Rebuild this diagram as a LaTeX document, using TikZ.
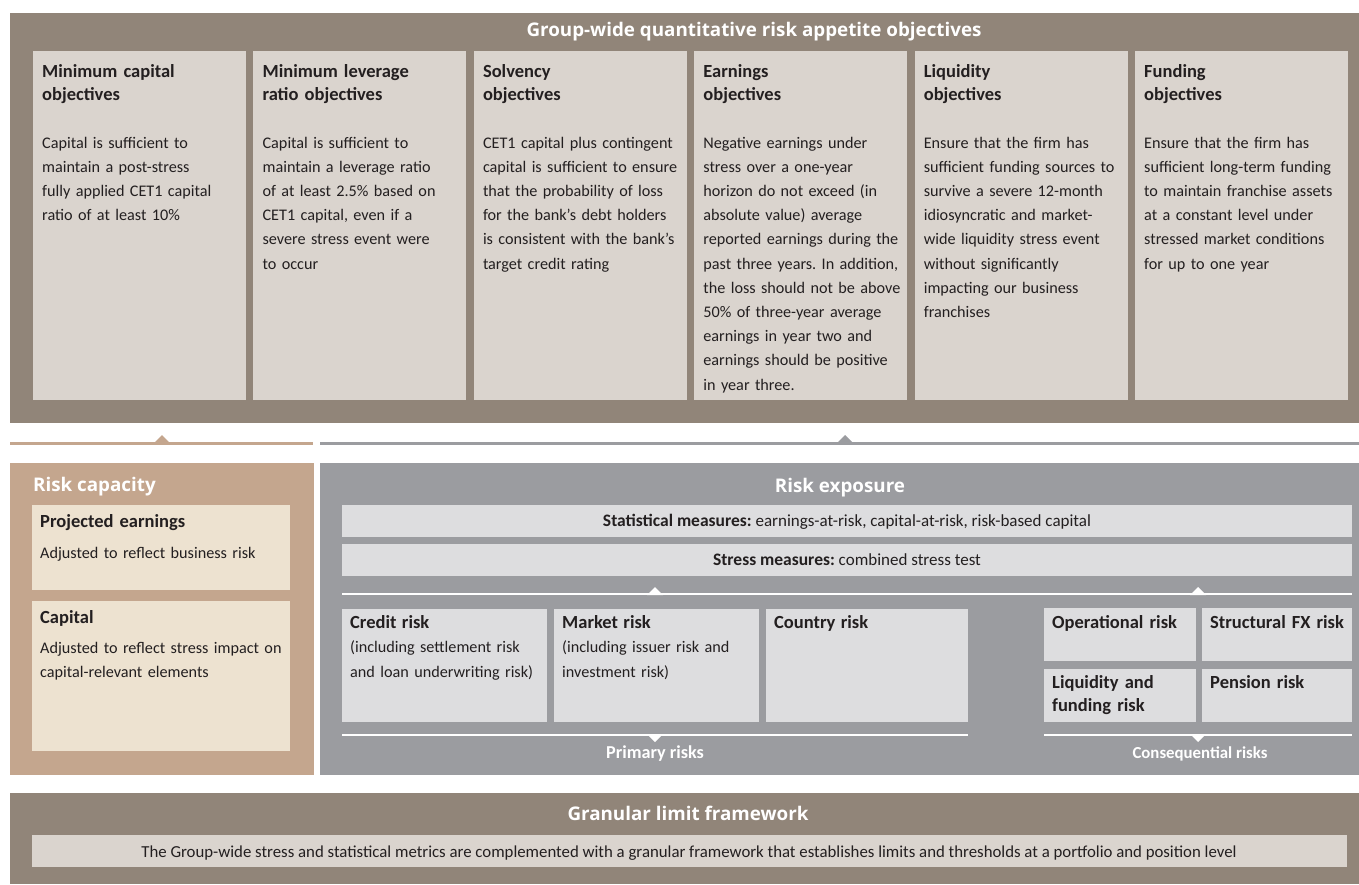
\documentclass[tikz,border=0pt]{standalone}
\usepackage{fontspec}
\setmainfont{Carlito}
\newfontfamily\headfont{Open Sans}
\newcommand\riskhead{\bfseries\fontsize{18.5}{24.6}\selectfont}
\newcommand\barhead{\bfseries\fontsize{17.5}{20}\selectfont}
\definecolor{taupe}{RGB}{145,133,121}
\definecolor{taupebox}{RGB}{218,212,206}
\definecolor{tan}{RGB}{196,166,142}
\definecolor{cream}{RGB}{237,226,208}
\definecolor{slate}{RGB}{155,156,160}
\definecolor{slatebox}{RGB}{221,221,223}
\definecolor{ink}{RGB}{35,31,32}
\frenchspacing

\begin{document}
\begin{tikzpicture}
  [
    x=1pt, y=-1pt,
    white title/.style={font=\headfont\bfseries\fontsize{18.8}{22}\selectfont, text=white, inner sep=0pt, anchor=base},
    white label/.style={font=\bfseries\fontsize{16.8}{20}\selectfont, text=white, inner sep=0pt, anchor=base},
    obj head/.style={font=\bfseries\fontsize{18.5}{23}\selectfont, text=ink, inner sep=0pt, anchor=base west, text width=300pt, align=left},
    obj text/.style={font=\fontsize{16.2}{24.2}\selectfont, text=ink, inner sep=0pt, anchor=base west, text width=300pt, align=left},
    risk text/.style={font=\fontsize{16.2}{24.6}\selectfont, text=ink, inner sep=0pt, anchor=base west, text width=300pt, align=left},
    bar text/.style={font=\fontsize{17}{20}\selectfont, text=ink, inner sep=0pt, anchor=base},
  ]
  \useasboundingbox (0,0) rectangle (1359,884);

  \fill [taupe] (10,13) rectangle (1359,423);
  \node (appetite) [white title] at (754,36) {Group-wide quantitative risk appetite objectives};

  \fill [taupebox] (33,51) rectangle (246,400);
  \node (mincap head) [obj head] at (42,77) {Minimum capital\\objectives};
  \node (mincap text) [obj text] at (42,148) {Capital is sufficient to\\maintain a post-stress\\fully applied CET1 capital\\ratio of at least 10\%};

  \fill [taupebox] (253.4,51) rectangle (466.4,400);
  \node (leverage head) [obj head] at (262.4,77) {Minimum leverage\\ratio objectives};
  \node (leverage text) [obj text] at (262.4,148) {Capital is sufficient to\\maintain a leverage ratio\\of at least 2.5\% based on\\CET1 capital, even if a\\severe stress event were\\to occur};

  \fill [taupebox] (473.8,51) rectangle (686.8,400);
  \node (solvency head) [obj head] at (482.8,77) {Solvency\\objectives};
  \node (solvency text) [obj text] at (482.8,148) {CET1 capital plus contingent\\capital is sufficient to ensure\\that the probability of loss\\for the bank’s debt holders\\is consistent with the bank’s\\target credit rating};

  \fill [taupebox] (694.2,51) rectangle (907.2,400);
  \node (earnings head) [obj head] at (703.2,77) {Earnings\\objectives};
  \node (earnings text) [obj text] at (703.2,148) {Negative earnings under\\stress over a one-year\\horizon do not exceed (in\\absolute value) average\\reported earnings during the\\past three years. In addition,\\the loss should not be above\\50\% of three-year average\\earnings in year two and\\earnings should be positive\\in year three.};

  \fill [taupebox] (914.6,51) rectangle (1127.6,400);
  \node (liquidity head) [obj head] at (923.6,77) {Liquidity\\objectives};
  \node (liquidity text) [obj text] at (923.6,148) {Ensure that the firm has\\sufficient funding sources to\\survive a severe 12-month\\idiosyncratic and market-\\wide liquidity stress event\\without significantly\\impacting our business\\franchises};

  \fill [taupebox] (1135,51) rectangle (1348,400);
  \node (funding head) [obj head] at (1144,77) {Funding\\objectives};
  \node (funding text) [obj text] at (1144,148) {Ensure that the firm has\\sufficient long-term funding\\to maintain franchise assets\\at a constant level under\\stressed market conditions\\for up to one year};

  \draw [tan, line width=3pt] (10,443) -- (313,443);
  \fill [tan] (153,444) -- (162,435) -- (171,444) -- cycle;
  \draw [slate, line width=3pt] (320,443) -- (1359,443);
  \fill [slate] (836,444) -- (845,435) -- (854,444) -- cycle;

  \begin{scope}
    \fill [tan] (10,463) rectangle (314,775);
    \node (capacity) [white title, anchor=base west] at (33,491) {Risk capacity};
    \fill [cream] (32,505) rectangle (290,590);
    \node (earn head) [obj head] at (40,527) {Projected earnings};
    \node (earn text) [obj text] at (40,558) {Adjusted to reflect business risk};
    \fill [cream] (32,601) rectangle (290,751);
    \node (cap head) [obj head] at (40,623) {Capital};
    \node (cap text) [obj text] at (40,653) {Adjusted to reflect stress impact on\\capital-relevant elements};
  \end{scope}

  \begin{scope}
    \fill [slate] (320,463) rectangle (1359,775);
    \node (exposure) [white title] at (840,492) {Risk exposure};
    \fill [slatebox] (342,505) rectangle (1352,537);
    \node (statistical) [bar text] at (847,526) {{\barhead Statistical measures:} earnings-at-risk, capital-at-risk, risk-based capital};
    \fill [slatebox] (342,544) rectangle (1352,576);
    \node (stress) [bar text] at (847,565) {{\barhead Stress measures:} combined stress test};

    \draw [white, line width=2.5pt] (342,594) -- (1352,594);
    \fill [white] (647,595) -- (655,587) -- (663,595) -- cycle;
    \fill [white] (1190,595) -- (1198,587) -- (1206,595) -- cycle;

    \fill [slatebox] (342,609) rectangle (547,722);
    \node (credit) [risk text] at (350,628) {{\riskhead Credit risk}\\(including settlement risk\\and loan underwriting risk)};
    \fill [slatebox] (554,609) rectangle (759,722);
    \node (market) [risk text] at (562,628) {{\riskhead Market risk}\\(including issuer risk and\\investment risk)};
    \fill [slatebox] (766,609) rectangle (968,722);
    \node (country) [risk text] at (774,628) {{\riskhead Country risk}};

    \draw [white, line width=2.5pt] (342,735) -- (968,735);
    \fill [white] (647,734) -- (655,742) -- (663,734) -- cycle;
    \node (primary) [white label, font=\bfseries\fontsize{18.2}{20}\selectfont] at (655,758) {Primary risks};

    \fill [slatebox] (1044,608) rectangle (1196,661);
    \node (operational) [obj head] at (1052,628) {Operational risk};
    \fill [slatebox] (1202,608) rectangle (1352,661);
    \node (structural) [obj head] at (1210,628) {Structural FX risk};
    \fill [slatebox] (1044,669) rectangle (1196,722);
    \node (liqfund) [obj head] at (1052,688) {Liquidity and\\funding risk};
    \fill [slatebox] (1202,669) rectangle (1352,722);
    \node (pension) [obj head] at (1210,688) {Pension risk};

    \draw [white, line width=2.5pt] (1044,735) -- (1352,735);
    \fill [white] (1190,734) -- (1198,742) -- (1206,734) -- cycle;
    \node (consequential) [white label] at (1200,758) {Consequential risks};
  \end{scope}

  \fill [taupe] (10,793) rectangle (1359,884);
  \node (granular) [white title] at (688,820) {Granular limit framework};
  \fill [taupebox] (32,835) rectangle (1347,867);
  \node (granular text) [bar text, font=\fontsize{16.8}{20}\selectfont] at (689,857) {The Group-wide stress and statistical metrics are complemented with a granular framework that establishes limits and thresholds at a portfolio and position level};
\end{tikzpicture}
\end{document}
